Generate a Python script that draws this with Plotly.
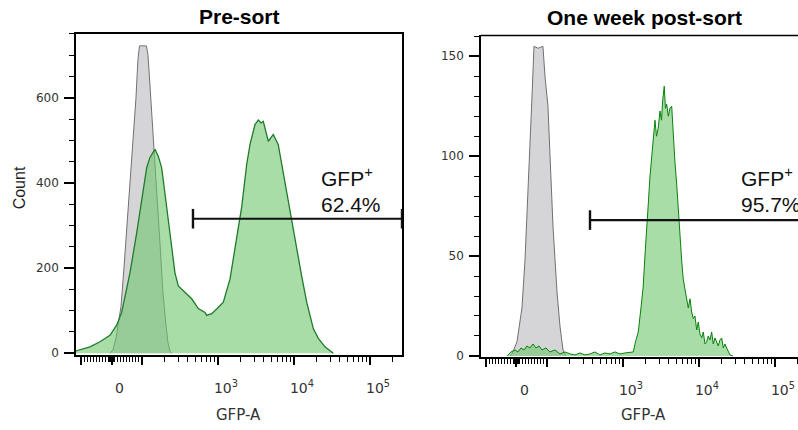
import numpy as np
import plotly.graph_objects as go

# ---------------- data (x in biexponential display units: 10^k -> k) ----------------
pre_ctrl_x = [1.579, 1.618, 1.658, 1.697, 1.724, 1.763, 1.803, 1.842, 1.882, 1.921, 1.947, 1.967,
              2.059, 2.079, 2.105, 2.145, 2.184, 2.211, 2.237, 2.276, 2.316, 2.342, 2.368, 2.395]
pre_ctrl_count = [0, 8, 35, 80, 110, 200, 300, 400, 500, 600, 690, 722,
                  722, 700, 630, 506, 400, 330, 258, 142, 66, 25, 5, 0]

pre_gfp_x = [1.132, 1.138, 1.316, 1.447, 1.579, 1.667, 1.733, 1.842, 1.930, 1.996, 2.062, 2.105,
             2.138, 2.171, 2.214, 2.259, 2.303, 2.346, 2.391, 2.434, 2.478, 2.566, 2.654, 2.741,
             2.829, 2.851, 2.917, 2.983, 3.070, 3.158, 3.246, 3.312, 3.378, 3.421, 3.487, 3.530,
             3.566, 3.596, 3.662, 3.728, 3.793, 3.838, 3.882, 3.925, 3.970, 4.036, 4.101, 4.167,
             4.254, 4.320, 4.408, 4.517]
pre_gfp_count = [5, 6, 15, 27, 42, 66, 96, 189, 282, 360, 436, 460,
                 470, 479, 463, 436, 374, 313, 251, 189, 158, 143, 128, 105,
                 96, 89, 93, 104, 120, 174, 266, 344, 444, 490, 537, 548,
                 541, 545, 498, 514, 490, 444, 398, 351, 305, 243, 181, 120,
                 58, 35, 15, 0]

post_ctrl_x = [1.513, 1.539, 1.605, 1.671, 1.711, 1.750, 1.803, 1.829, 1.882, 1.947,
               1.974, 2.013, 2.039, 2.079, 2.132, 2.171, 2.211, 2.250]
post_ctrl_count = [0, 1, 7, 24, 48, 80, 130, 155, 154, 155,
                   140, 125, 98, 65, 32, 15, 3, 0]

post_gfp_x = [1.474, 1.526, 1.579, 1.618, 1.658, 1.697, 1.737, 1.776, 1.816, 1.855, 1.895, 1.934,
              1.987, 2.039, 2.105, 2.171, 2.237, 2.303, 2.368, 2.434, 2.500, 2.566, 2.632, 2.697,
              2.763, 2.829, 2.895, 2.961, 3.026, 3.092, 3.136, 3.164, 3.201, 3.237, 3.267, 3.289,
              3.312, 3.333, 3.355, 3.378, 3.399, 3.421, 3.441, 3.464, 3.487, 3.507, 3.522, 3.543,
              3.559, 3.575, 3.597, 3.618, 3.641, 3.662, 3.684, 3.707, 3.728, 3.750, 3.772, 3.793,
              3.816, 3.838, 3.859, 3.882, 3.904, 3.925, 3.947, 3.970, 3.991, 4.013, 4.036, 4.057,
              4.079, 4.101, 4.122, 4.145, 4.167, 4.188, 4.211, 4.233, 4.254, 4.276, 4.299, 4.320,
              4.342, 4.364, 4.386, 4.408, 4.447]
post_gfp_count = [0, 2, 3, 2, 4, 3, 5, 4, 6, 4, 5, 3,
                  4, 2, 3, 1, 2, 1, 0.5, 1.5, 0.5, 1, 2, 0.5,
                  1.5, 1, 2, 1, 1.5, 2, 2, 7, 12, 24, 35, 50,
                  61.5, 76, 89.6, 100, 106, 118, 110, 114, 122.6, 118, 127.6, 135,
                  124, 126, 120, 124, 125, 108, 97, 86, 72, 61.5, 48, 38.5,
                  33, 30, 24, 28.6, 22, 18.7, 20, 13, 17, 11, 9, 12,
                  6, 7, 10, 8, 12, 6, 9, 7, 5, 8, 9, 4,
                  6, 4, 2, 0.5, 0]

panel_titles = ["Pre-sort", "One week post-sort"]
gate_labels = ["62.4%", "95.7%"]
gate_x = [[2.671, 5.421], [2.566, 5.45]]
gate_y = [316, 68]

major_values = [-100, 0, 100, 1e3, 1e4, 1e5]
major_labels = ["", "0", "", "10<sup>3</sup>", "10<sup>4</sup>", "10<sup>5</sup>"]

# ---------------- display transform for tick marks ----------------
Z = 1.599  # display position of zero


def T(v):
    v = np.asarray(v, dtype=float)
    out = np.empty_like(v)
    lin = np.abs(v) <= 100
    out[lin] = Z + v[lin] / 100 * (2 - Z)
    pos = v > 100
    out[pos] = np.log10(v[pos])
    neg = v < -100
    out[neg] = 2 * Z - np.log10(-v[neg])
    return out


minor_vals = []
for m in range(1, 10):
    minor_vals += [m, -m, 10 * m, -10 * m]
for dec in [100, 1000, 10000, 100000]:
    for m in range(2, 10):
        minor_vals += [m * dec, -m * dec]
minor_pos = [float(p) for p in T(minor_vals) if 1.13 < p < 5.43]
major_pos = [float(p) for p in T(major_values)]

# ---------------- layout geometry ----------------
W, H = 798, 430


def px(x):
    return x / W


def py(y):
    return 1 - y / H


GRAY_FILL = "rgba(178,178,182,0.55)"
GRAY_LINE = "#707070"
GREEN_FILL = "rgba(110,198,110,0.6)"
GREEN_LINE = "#1f7a2a"
FONT = "Liberation Sans, Arial, sans-serif"
TICKFONT = "DejaVu Sans, Verdana, sans-serif"

fig = go.Figure()

panels = [
    dict(xa="x", ya="y", ctrl=(pre_ctrl_x, pre_ctrl_count), gfp=(pre_gfp_x, pre_gfp_count),
         gline=GREEN_LINE, gw=1.3),
    dict(xa="x2", ya="y2", ctrl=(post_ctrl_x, post_ctrl_count), gfp=(post_gfp_x, post_gfp_count),
         gline="#0b800b", gw=1.0),
]

for i, p in enumerate(panels):
    fig.add_trace(go.Scatter(x=p["ctrl"][0], y=p["ctrl"][1], xaxis=p["xa"], yaxis=p["ya"],
                             mode="lines", fill="tozeroy", fillcolor=GRAY_FILL,
                             line=dict(color=GRAY_LINE, width=1), showlegend=False,
                             hoverinfo="skip"))
    fig.add_trace(go.Scatter(x=p["gfp"][0], y=p["gfp"][1], xaxis=p["xa"], yaxis=p["ya"],
                             mode="lines", fill="tozeroy", fillcolor=GREEN_FILL,
                             line=dict(color=p["gline"], width=p["gw"]), showlegend=False,
                             hoverinfo="skip"))
    fig.add_trace(go.Scatter(x=gate_x[i], y=[gate_y[i]] * 2, xaxis=p["xa"], yaxis=p["ya"],
                             mode="lines+markers", cliponaxis=False,
                             line=dict(color="#111111", width=2.2),
                             marker=dict(symbol="line-ns", size=14,
                                         line=dict(color="#111111", width=2.4)),
                             showlegend=False, hoverinfo="skip"))

xcommon = dict(showline=True, linecolor="black", linewidth=1.6, ticks="outside", ticklen=8,
               tickwidth=1.6, tickcolor="black", tickmode="array", tickvals=major_pos,
               ticktext=major_labels, tickfont=dict(family=TICKFONT, size=14, color="#333333"),
               ticklabelstandoff=11, ticklabelshift=8, showgrid=False, zeroline=False,
               minor=dict(tickmode="array", tickvals=minor_pos, ticks="outside", ticklen=5,
                          tickwidth=1.2, tickcolor="black", showgrid=False))
ycommon = dict(showline=True, linecolor="black", linewidth=1.6, ticks="outside", ticklen=10,
               tickwidth=1.6, tickcolor="black", tickfont=dict(family=TICKFONT, size=12, color="#333333"),
               showgrid=False, zeroline=False, ticklabelstandoff=3)

fig.update_layout(
    width=W, height=H, margin=dict(l=0, r=0, t=0, b=0),
    paper_bgcolor="white", plot_bgcolor="white",
    xaxis=dict(domain=[px(76), px(402)], range=[1.132, 5.421], anchor="y", mirror=True, **xcommon),
    yaxis=dict(domain=[py(360), py(34)], range=[-4, 751], anchor="x", mirror=True,
               dtick=200, tick0=0,
               minor=dict(dtick=50, ticks="outside", ticklen=5, tickwidth=1.2, tickcolor="black"),
               **ycommon),
    xaxis2=dict(domain=[px(481), 1.0], range=[1.132, 5.303], anchor="y2", **xcommon),
    yaxis2=dict(domain=[py(362), py(36)], range=[-0.5, 160.4], anchor="x2",
                dtick=50, tick0=0,
                minor=dict(dtick=10, ticks="outside", ticklen=5, tickwidth=1.2, tickcolor="black"),
                **ycommon),
)

# top border of right panel (its right border is cut off by the image edge)
fig.add_shape(type="line", xref="x2 domain", yref="y2 domain", x0=0, x1=1, y0=1, y1=1,
              line=dict(color="black", width=1.6))

C = dict(xanchor="center", yanchor="middle", showarrow=False)
ann = []
ann.append(dict(text="<b>" + panel_titles[0] + "</b>", x=px(239), y=py(17), xref="paper", yref="paper",
                font=dict(family=FONT, size=21, color="black"), **C))
ann.append(dict(text="<b>" + panel_titles[1] + "</b>", x=px(644), y=py(18), xref="paper", yref="paper",
                font=dict(family=FONT, size=21, color="black"), **C))
ann.append(dict(text="Count", x=px(19), y=py(191), xref="paper", yref="paper", textangle=-90,
                font=dict(family=FONT, size=16, color="#222222"), **C))
for cx in (238, 643):
    ann.append(dict(text="GFP-A", x=px(cx), y=py(421), xref="paper", yref="paper",
                    font=dict(family=TICKFONT, size=15, color="#333333"), **C))
# gate labels
L = dict(xanchor="left", yanchor="middle", showarrow=False)
ann.append(dict(text="GFP<sup>+</sup>", x=4.33, y=413, xref="x", yref="y",
                font=dict(family=FONT, size=21, color="#111111"), **L))
ann.append(dict(text=gate_labels[0], x=4.33, y=349, xref="x", yref="y",
                font=dict(family=FONT, size=21, color="#111111"), **L))
ann.append(dict(text="GFP<sup>+</sup>", x=4.525, y=89.6, xref="x2", yref="y2",
                font=dict(family=FONT, size=21, color="#111111"), **L))
ann.append(dict(text=gate_labels[1], x=4.525, y=75.7, xref="x2", yref="y2",
                font=dict(family=FONT, size=21, color="#111111"), **L))
fig.update_layout(annotations=ann)

fig.write_html("out.html", config={"displayModeBar": False},
               post_script="document.body.style.margin='0';document.body.style.padding='0';")
